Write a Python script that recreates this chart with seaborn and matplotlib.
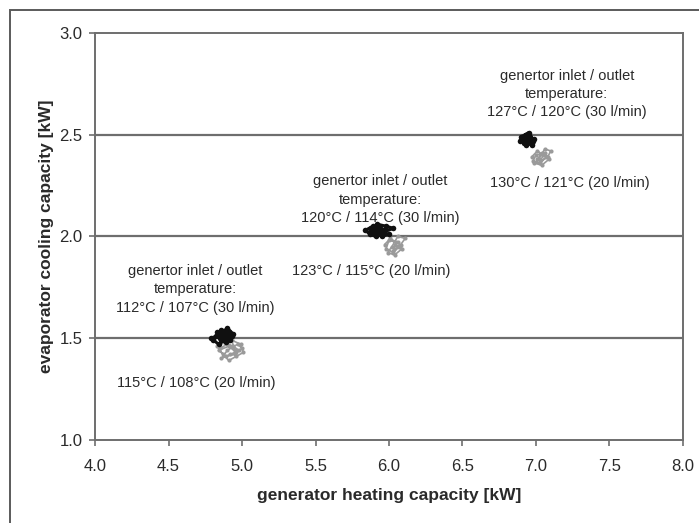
import matplotlib
matplotlib.use('Agg')
import matplotlib.pyplot as plt
from matplotlib.patches import Rectangle
import seaborn as sns

###########################################################################
# data (generator heating / evaporator cooling, kW)

# 30 l/min runs (black traces)
black_112_x = [4.80, 4.84, 4.88, 4.86, 4.91, 4.93, 4.89, 4.85, 4.82, 4.87, 4.90, 4.94,
               4.88, 4.84, 4.79, 4.86, 4.90, 4.92, 4.87, 4.83, 4.89, 4.91, 4.86]
black_112_y = [1.49, 1.52, 1.50, 1.54, 1.53, 1.51, 1.48, 1.50, 1.51, 1.53, 1.55, 1.52,
               1.49, 1.47, 1.50, 1.52, 1.50, 1.49, 1.51, 1.53, 1.52, 1.50, 1.49]
black_120_x = [5.87, 5.91, 5.95, 5.92, 5.98, 6.03, 5.96, 5.91, 5.87, 5.84, 5.89, 5.94,
               6.00, 5.95, 5.90, 5.88, 5.93, 5.97, 5.92, 5.87, 5.93]
black_120_y = [2.02, 2.04, 2.03, 2.06, 2.05, 2.04, 2.02, 2.00, 2.01, 2.03, 2.05, 2.02,
               2.01, 2.00, 2.02, 2.04, 2.05, 2.03, 2.01, 2.02, 2.03]
black_127_x = [6.89, 6.93, 6.96, 6.94, 6.99, 6.97, 6.92, 6.90, 6.95, 6.98, 6.93, 6.91,
               6.95, 6.97, 6.94]
black_127_y = [2.47, 2.50, 2.49, 2.46, 2.48, 2.45, 2.46, 2.49, 2.51, 2.47, 2.45, 2.48,
               2.50, 2.46, 2.48]

# 20 l/min runs (grey traces)
grey_115_x = [4.85, 4.90, 4.95, 4.93, 4.99, 5.01, 4.96, 4.91, 4.87, 4.83, 4.88, 4.94,
              4.98, 4.92, 4.86, 4.90, 4.97, 5.00, 4.95, 4.89, 4.84, 4.91, 4.96]
grey_115_y = [1.45, 1.47, 1.44, 1.49, 1.47, 1.43, 1.41, 1.39, 1.42, 1.46, 1.48, 1.46,
              1.44, 1.42, 1.40, 1.44, 1.47, 1.45, 1.42, 1.41, 1.44, 1.46, 1.43]
grey_123_x = [5.97, 6.01, 6.05, 6.03, 6.08, 6.11, 6.06, 6.02, 5.99, 6.04, 6.09, 6.06,
              6.00, 5.98, 6.03, 6.07, 6.04]
grey_123_y = [1.96, 1.99, 1.97, 1.93, 1.96, 1.99, 2.00, 1.95, 1.92, 1.91, 1.94, 1.97,
              1.98, 1.94, 1.92, 1.95, 1.96]
grey_130_x = [6.97, 7.01, 7.05, 7.03, 7.08, 7.10, 7.06, 7.02, 6.99, 7.04, 7.09, 7.06,
              7.00, 6.98, 7.03, 7.07, 7.04, 7.01]
grey_130_y = [2.39, 2.42, 2.40, 2.37, 2.39, 2.42, 2.43, 2.38, 2.36, 2.35, 2.38, 2.41,
              2.40, 2.37, 2.36, 2.39, 2.41, 2.38]

# annotations
label_30 = ['genertor inlet / outlet\ntemperature:\n112°C / 107°C (30 l/min)',
            'genertor inlet / outlet\ntemperature:\n120°C / 114°C (30 l/min)',
            'genertor inlet / outlet\ntemperature:\n127°C / 120°C (30 l/min)']
label_20 = ['115°C / 108°C (20 l/min)',
            '123°C / 115°C (20 l/min)',
            '130°C / 121°C (20 l/min)']
label_30_pos = [(4.68, 1.74), (5.94, 2.18), (7.21, 2.70)]
label_20_pos = [(4.69, 1.28), (5.88, 1.83), (7.23, 2.26)]

x_ticks = [4.0, 4.5, 5.0, 5.5, 6.0, 6.5, 7.0, 7.5, 8.0]
y_ticks = [1.0, 1.5, 2.0, 2.5, 3.0]

###########################################################################
# plotting

sns.set_style('white')
plt.rcParams['font.family'] = ['Liberation Sans', 'DejaVu Sans']

fig = plt.figure(figsize=(6.99, 5.23), dpi=100)
ax = fig.add_axes([0.136, 0.159, 0.841, 0.778])

# outer frame (only top and left edges show in the picture)
fig.patches.append(Rectangle((0.014, -0.05), 1.2, 1.031, transform=fig.transFigure,
                             fill=False, edgecolor='#5a5a5a', linewidth=1.4))

for yv in y_ticks[1:-1]:
    ax.axhline(yv, color='#6e6e6e', linewidth=1.6, zorder=1)

grey_runs = [(grey_115_x, grey_115_y), (grey_123_x, grey_123_y), (grey_130_x, grey_130_y)]
black_runs = [(black_112_x, black_112_y), (black_120_x, black_120_y), (black_127_x, black_127_y)]

for xs, ys in grey_runs:
    sns.lineplot(x=xs, y=ys, sort=False, estimator=None, color='#9a9a9a',
                 linewidth=1.2, marker='o', markersize=3, markeredgewidth=0, ax=ax, zorder=3)
for xs, ys in black_runs:
    sns.lineplot(x=xs, y=ys, sort=False, estimator=None, color='#101010',
                 linewidth=2.2, marker='o', markersize=4, markeredgewidth=0, ax=ax, zorder=4)

for txt, (tx, ty) in zip(label_30, label_30_pos):
    ax.text(tx, ty, txt, ha='center', va='center', fontsize=10.5, linespacing=1.4,
            color='#2a2a2a')
for txt, (tx, ty) in zip(label_20, label_20_pos):
    ax.text(tx, ty, txt, ha='center', va='center', fontsize=10.5, color='#2a2a2a')

ax.set_xlim(4.0, 8.0)
ax.set_ylim(1.0, 3.0)
ax.set_xticks(x_ticks)
ax.set_yticks(y_ticks)
ax.set_xticklabels([f'{v:.1f}' for v in x_ticks])
ax.set_yticklabels([f'{v:.1f}' for v in y_ticks])
ax.tick_params(axis='both', direction='out', length=4, width=1.2, color='#6e6e6e',
               labelsize=12, labelcolor='#2a2a2a')
ax.tick_params(axis='x', bottom=True, pad=10)
ax.tick_params(axis='y', left=True, pad=5)
for sp in ax.spines.values():
    sp.set_visible(True)
    sp.set_color('#6e6e6e')
    sp.set_linewidth(1.4)

ax.set_xlabel('generator heating capacity [kW]', fontsize=12.5, fontweight='bold',
              color='#2a2a2a', labelpad=10)
ax.set_ylabel('evaporator cooling capacity [kW]', fontsize=12.5, fontweight='bold',
              color='#2a2a2a', labelpad=4)

fig.savefig('out.png', dpi=100)
